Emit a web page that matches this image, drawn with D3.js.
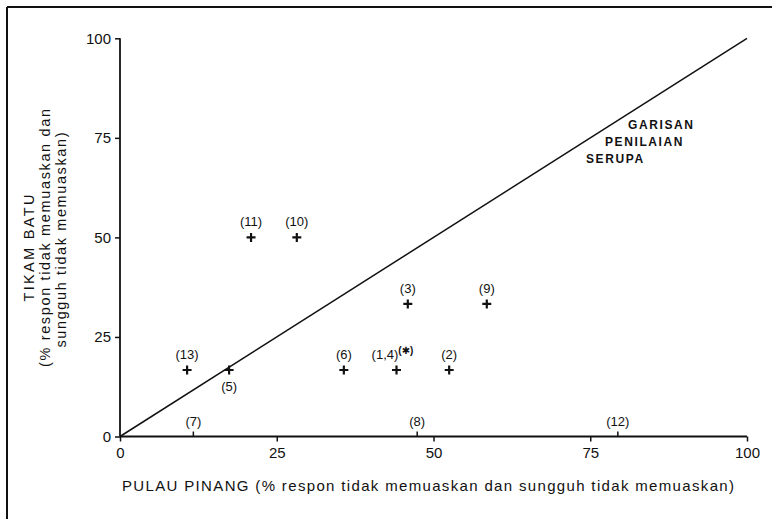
<!DOCTYPE html>
<html>
<head>
<meta charset="utf-8">
<script src="https://cdn.jsdelivr.net/npm/d3@7/dist/d3.min.js"></script>
<style>
  html, body { margin: 0; padding: 0; background: #fff; }
  svg { display: block; }
  text { font-family: "Liberation Sans", "DejaVu Sans", sans-serif; fill: #111; }
</style>
</head>
<body>
<svg id="chart" width="772" height="519"></svg>
<script>
// ---- data ----
const pointLabels = ["(1,4)", "(2)", "(3)", "(5)", "(6)", "(7)", "(8)", "(9)", "(10)", "(11)", "(12)", "(13)"];
const pulauPinang = [44.1, 52.5, 45.9, 17.4, 35.7, 11.7, 47.4, 58.5, 28.2, 20.9, 79.4, 10.7];
const tikamBatu   = [16.7, 16.7, 33.3, 16.7, 16.7, 0,    0,    33.3, 50,   50,   0,    16.7];
const labelsBelow = ["(5)"];
const xTicks = [0, 25, 50, 75, 100];
const yTicks = [0, 25, 50, 75, 100];
const xTitle = "PULAU PINANG (% respon tidak memuaskan dan sungguh tidak memuaskan)";
const yTitle = ["TIKAM BATU", "(% respon tidak memuaskan dan", "sungguh tidak memuaskan)"];
const lineLabel = ["GARISAN", "PENILAIAN", "SERUPA"];
const equalLine = [[0, 0], [100, 100]];

const svg = d3.select("#chart");
const ink = "#111";

// frame
svg.append("line").attr("x1", 7).attr("y1", 7).attr("x2", 772).attr("y2", 7)
  .attr("stroke", ink).attr("stroke-width", 2);
svg.append("line").attr("x1", 7).attr("y1", 7).attr("x2", 7).attr("y2", 519)
  .attr("stroke", ink).attr("stroke-width", 2);

const x = d3.scaleLinear().domain([0, 100]).range([120, 747]);
const y = d3.scaleLinear().domain([0, 100]).range([436.5, 38.3]);

// x axis
const xAxis = svg.append("g").attr("transform", `translate(0,${y(0)})`)
  .call(d3.axisBottom(x).tickValues(xTicks).tickSize(5).tickPadding(6).tickFormat(d3.format("d")));
xAxis.select(".domain").attr("stroke", ink).attr("stroke-width", 1.8).attr("d", `M${x(0)},0H${x(100)}`);
xAxis.selectAll(".tick line").attr("stroke", ink).attr("stroke-width", 1.5);
xAxis.selectAll(".tick text").attr("font-size", 15).attr("fill", ink)
  .style("font-family", "'Liberation Sans', sans-serif");

// y axis
const yAxis = svg.append("g").attr("transform", `translate(${x(0)},0)`)
  .call(d3.axisLeft(y).tickValues(yTicks).tickSize(5).tickPadding(4).tickFormat(d3.format("d")));
yAxis.select(".domain").attr("stroke", ink).attr("stroke-width", 1.8).attr("d", `M0,${y(0)}V${y(100)}`);
yAxis.selectAll(".tick line").attr("stroke", ink).attr("stroke-width", 1.5);
yAxis.selectAll(".tick text").attr("font-size", 15).attr("fill", ink)
  .style("font-family", "'Liberation Sans', sans-serif");

// equal-rating line
svg.append("path")
  .attr("d", d3.line().x(d => x(d[0])).y(d => y(d[1]))(equalLine))
  .attr("fill", "none").attr("stroke", ink).attr("stroke-width", 1.5);

// line label
const llx = [628, 605, 586];
lineLabel.forEach((t, i) => {
  svg.append("text").attr("x", llx[i]).attr("y", 129 + i * 17)
    .attr("font-size", 12).attr("letter-spacing", 1.6).attr("font-weight", "bold").text(t);
});

// points
const pts = pointLabels.map((l, i) => ({ label: l, px: pulauPinang[i], py: tikamBatu[i] }));
const g = svg.append("g");
pts.forEach(d => {
  const cx = x(d.px), cy = y(d.py);
  if (d.py === 0) {
    g.append("line").attr("x1", cx).attr("x2", cx).attr("y1", cy).attr("y2", cy - 5)
      .attr("stroke", ink).attr("stroke-width", 1.5);
  } else {
    g.append("path").attr("d", `M${cx - 4.5},${cy}H${cx + 4.5}M${cx},${cy - 4.5}V${cy + 4.5}`)
      .attr("stroke", ink).attr("stroke-width", 2.2);
  }
  const below = labelsBelow.includes(d.label);
  const t = g.append("text").attr("x", cx).attr("y", below ? cy + 21 : cy - 11)
    .attr("text-anchor", "middle").attr("font-size", 13).text(d.label);
  if (d.label === "(1,4)") {
    t.attr("x", cx - 4);
    t.append("tspan").attr("font-size", 10).attr("font-weight", "bold")
      .attr("dy", -5).text("(✱)");
  }
});

// axis titles
svg.append("text").attr("x", 428).attr("y", 491).attr("text-anchor", "middle")
  .attr("font-size", 15).attr("textLength", 612).attr("lengthAdjust", "spacing").text(xTitle);

const yt = [
  { x: 34, y: 248, len: 107, ls: true },
  { x: 50, y: 238, len: 258 },
  { x: 66, y: 240, len: 215 }
];
yTitle.forEach((t, i) => {
  svg.append("text")
    .attr("transform", `translate(${yt[i].x},${yt[i].y}) rotate(-90)`)
    .attr("text-anchor", "middle").attr("font-size", 14.5)
    .attr("textLength", yt[i].len).attr("lengthAdjust", "spacing").text(t);
});
</script>
</body>
</html>
